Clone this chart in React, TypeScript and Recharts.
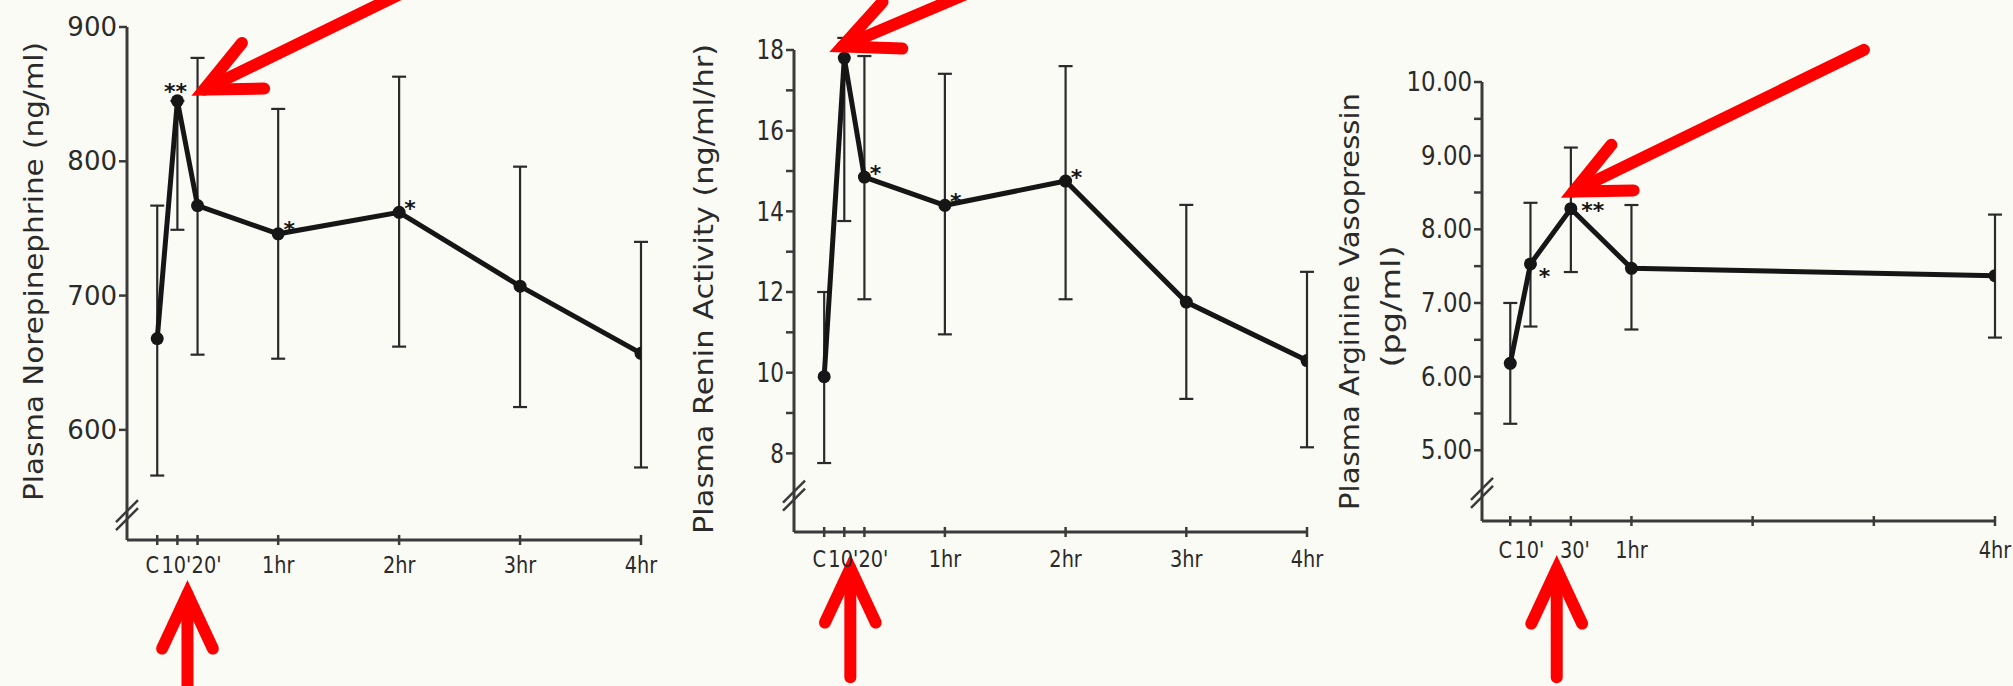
import React from 'react'
import { LineChart, Line, XAxis, YAxis, ErrorBar, ReferenceDot } from 'recharts'

// minutes after the control sample (C = 0)
const neTimes = [0, 10, 20, 60, 120, 180, 240]
const neMean = [668, 845, 767, 746, 762, 707, 657]
const neErr = [[102, 99], [96, 0], [111, 110], [93, 93], [100, 101], [90, 89], [85, 83]]
const neStars = ['', '**', '', '*', '*', '', '']
const neStarSide = ['', 'top', '', 'upRight', 'upRight', '', '']

const reninTimes = [0, 10, 20, 60, 120, 180, 240]
const reninMean = [9.9, 17.8, 14.85, 14.15, 14.75, 11.75, 10.3]
const reninErr = [[2.14, 2.1], [4.04, 0.5], [3.03, 3.0], [3.2, 3.26], [2.93, 2.85], [2.4, 2.41], [2.15, 2.2]]
const reninStars = ['', '', '*', '*', '*', '', '']
const reninStarSide = ['', '', 'upRight', 'upRight', 'upRight', '', '']

const avpTimes = [0, 10, 30, 60, 240]
const avpMean = [6.18, 7.53, 8.28, 7.47, 7.37]
const avpErr = [[0.82, 0.82], [0.85, 0.83], [0.86, 0.83], [0.83, 0.86], [0.84, 0.83]]
const avpStars = ['', '*', '**', '', '']
const avpStarSide = ['', 'right', 'farRight', '', '']

const timeTicks = [0, 10, 20, 60, 120, 180, 240]
const timeLabels = ['C', "10'", "20'", '1hr', '2hr', '3hr', '4hr']
const avpTimeTicks = [0, 10, 30, 60, 120, 180, 240]
const avpTimeLabels = ['C', "10'", "30'", '1hr', '', '', '4hr']

const neTicks = [600, 700, 800, 900]
const reninTicks = [8, 9, 10, 11, 12, 13, 14, 15, 16, 17, 18]
const avpTicks = [5, 5.5, 6, 6.5, 7, 7.5, 8, 8.5, 9, 9.5, 10]

// where the arrows sit on the time axis
const neArrowTime = 15
const reninArrowTime = 13
const avpArrowTime = 23

const INK = '#161616'
const AXIS = '#3a3a3a'
const TEXT = '#2a2a2a'
const RED = '#ff0000'
const FONT = 'DejaVu Sans, sans-serif'

// the first three time labels sit close together, nudge them apart
const labelNudge: Record<string, number> = { C: -5, "10'": -1, "20'": 9, "30'": 4 }

const build = (times: number[], mean: number[], err: number[][], stars: string[], side: string[]) =>
  times.map((t, i) => ({ t, v: mean[i], err: err[i], star: stars[i], side: side[i] }))

const starOffsets: Record<string, [number, number]> = {
  top: [-2, -17],
  upRight: [11, -12],
  right: [14, 5],
  farRight: [22, -6],
}

function Arrow({ x, y, angle, length }: { x: number; y: number; angle: number; length: number }) {
  const w = 12
  const spread = (25 * Math.PI) / 180
  const a = (angle * Math.PI) / 180
  // pull the vertex back so the mitred point lands on (x, y)
  const back = w / 2 / Math.sin(spread)
  const vx = x + back * Math.cos(a)
  const vy = y - back * Math.sin(a)
  const head = 60
  const ex = vx + length * Math.cos(a)
  const ey = vy - length * Math.sin(a)
  const b1x = vx + head * Math.cos(a + spread)
  const b1y = vy - head * Math.sin(a + spread)
  const b2x = vx + head * Math.cos(a - spread)
  const b2y = vy - head * Math.sin(a - spread)
  return (
    <g stroke={RED} strokeWidth={w} fill="none" strokeLinecap="round">
      <path d={`M${ex},${ey} L${vx},${vy}`} />
      <path d={`M${b1x},${b1y} L${vx},${vy} L${b2x},${b2y}`} strokeLinejoin="miter" />
    </g>
  )
}

function AxisBreak({ cx, cy }: { cx: number; cy: number }) {
  return (
    <g stroke={AXIS} strokeWidth={2.5}>
      <line x1={cx - 11} y1={cy + 9} x2={cx + 11} y2={cy - 13} />
      <line x1={cx - 11} y1={cy + 17} x2={cx + 11} y2={cy - 5} />
    </g>
  )
}

type PanelProps = {
  left: number
  width: number
  margin: { top: number; right: number; bottom: number; left: number }
  data: ReturnType<typeof build>
  xDomain: [number, number]
  xTicks: number[]
  xLabels: string[]
  xLabelDy: number
  yDomain: [number, number]
  yTicks: number[]
  yFormat: (v: number) => string
  yFont: number
  yScaleX: number
  yLabel: string[]
  yLabelLength: number[]
  yLabelDx: number[]
  yLabelDy: number[]
  breakValue: number
  peak: { x: number; y: number; dx: number; dy: number; angle: number; length: number }
  base: { x: number; dy: number; length: number }
}

function Panel(p: PanelProps) {
  const renderXTick = (props: any) => {
    const { x, y, payload } = props
    const label = p.xLabels[p.xTicks.indexOf(payload.value)]
    const lx = x + (labelNudge[label] ?? 0)
    return (
      <g>
        <line x1={x} y1={y - 5} x2={x} y2={y + 5} stroke={AXIS} strokeWidth={2.5} />
        {label ? (
          <text
            transform={`translate(${lx},${y + p.xLabelDy}) scale(0.84,1)`}
            textAnchor="middle"
            dominantBaseline="central"
            fontFamily={FONT}
            fontSize={23}
            fill={TEXT}
          >
            {label}
          </text>
        ) : null}
      </g>
    )
  }

  const renderYTick = (props: any) => {
    const { x, y, payload } = props
    const label = p.yFormat(payload.value)
    return (
      <g>
        <line x1={x - 8} y1={y} x2={x} y2={y} stroke={AXIS} strokeWidth={2.5} />
        {label ? (
          <text
            transform={`translate(${x - 10},${y}) scale(${p.yScaleX},1)`}
            textAnchor="end"
            dominantBaseline="central"
            fontFamily={FONT}
            fontSize={p.yFont}
            fill={TEXT}
          >
            {label}
          </text>
        ) : null}
      </g>
    )
  }

  const renderYLabel = (props: any) => {
    const vb = props.viewBox
    const axisX = vb.x + vb.width
    const midY = vb.y + vb.height / 2
    return (
      <g>
        {p.yLabel.map((line, i) => {
          const cx = axisX + p.yLabelDx[i]
          const cy = midY + p.yLabelDy[i]
          return (
            <text
              key={line}
              x={cx}
              y={cy}
              transform={`rotate(-90,${cx},${cy})`}
              textAnchor="middle"
              dominantBaseline="central"
              textLength={p.yLabelLength[i]}
              lengthAdjust="spacingAndGlyphs"
              fontFamily={FONT}
              fontSize={26}
              fill={TEXT}
            >
              {line}
            </text>
          )
        })}
      </g>
    )
  }

  const renderStar = (props: any) => {
    const { x, y, index } = props
    const d = p.data[index]
    if (!d || !d.star) return <g />
    const [dx, dy] = starOffsets[d.side]
    return (
      <text
        x={x + dx}
        y={y + dy + 8}
        textAnchor="middle"
        dominantBaseline="central"
        fontFamily={FONT}
        fontSize={22}
        fontWeight="bold"
        fill={INK}
      >
        {d.star}
      </text>
    )
  }

  return (
    <div style={{ position: 'absolute', left: p.left, top: 0 }}>
      <LineChart width={p.width} height={686} data={p.data} margin={p.margin}>
        <XAxis
          type="number"
          dataKey="t"
          domain={p.xDomain}
          ticks={p.xTicks}
          interval={0}
          allowDataOverflow
          height={40}
          tickSize={0}
          tickMargin={0}
          tickLine={false}
          axisLine={{ stroke: AXIS, strokeWidth: 3 }}
          tick={renderXTick}
        />
        <YAxis
          type="number"
          domain={p.yDomain}
          ticks={p.yTicks}
          interval={0}
          allowDataOverflow
          width={60}
          tickSize={0}
          tickMargin={0}
          tickLine={false}
          axisLine={{ stroke: AXIS, strokeWidth: 3 }}
          tick={renderYTick}
          label={{ content: renderYLabel }}
        />
        <Line
          type="linear"
          dataKey="v"
          stroke={INK}
          strokeWidth={5}
          dot={{ r: 6.5, fill: INK, stroke: INK, strokeWidth: 0 }}
          activeDot={false}
          label={renderStar}
          isAnimationActive={false}
        >
          <ErrorBar dataKey="err" direction="y" width={7} strokeWidth={2.2} stroke="#2a2a2a" isAnimationActive={false} />
        </Line>
        <ReferenceDot
          x={p.xDomain[0]}
          y={p.breakValue}
          r={0}
          ifOverflow="visible"
          shape={(s: any) => <AxisBreak cx={s.cx} cy={s.cy} />}
        />
        <ReferenceDot
          x={p.peak.x}
          y={p.peak.y}
          r={0}
          ifOverflow="visible"
          shape={(s: any) => (
            <Arrow x={s.cx + p.peak.dx} y={s.cy + p.peak.dy} angle={p.peak.angle} length={p.peak.length} />
          )}
        />
        <ReferenceDot
          x={p.base.x}
          y={p.yDomain[0]}
          r={0}
          ifOverflow="visible"
          shape={(s: any) => <Arrow x={s.cx} y={s.cy + p.base.dy} angle={-90} length={p.base.length} />}
        />
      </LineChart>
    </div>
  )
}

export default function App() {
  const ne = build(neTimes, neMean, neErr, neStars, neStarSide)
  const renin = build(reninTimes, reninMean, reninErr, reninStars, reninStarSide)
  const avp = build(avpTimes, avpMean, avpErr, avpStars, avpStarSide)

  return (
    <div style={{ position: 'relative', width: 2013, height: 686, overflow: 'hidden', background: '#fbfbf5' }}>
      <style>{'body { margin: 0; }'}</style>
      <Panel
        left={0}
        width={680}
        margin={{ top: 27, right: 39, bottom: 106, left: 67 }}
        data={ne}
        xDomain={[-15, 240]}
        xTicks={timeTicks}
        xLabels={timeLabels}
        xLabelDy={25}
        yDomain={[518, 900]}
        yTicks={neTicks}
        yFormat={(v) => String(v)}
        yFont={26}
        yScaleX={1}
        yLabel={['Plasma Norepinephrine  (ng/ml)']}
        yLabelLength={[459]}
        yLabelDx={[-93]}
        yLabelDy={[-12]}
        breakValue={538}
        peak={{ x: neTimes[1], y: neMean[1], dx: 14, dy: -5, angle: 26, length: 330 }}
        base={{ x: neArrowTime, dy: 40, length: 130 }}
      />
      <Panel
        left={680}
        width={650}
        margin={{ top: 50, right: 23, bottom: 114, left: 54 }}
        data={renin}
        xDomain={[-15, 240]}
        xTicks={timeTicks}
        xLabels={timeLabels}
        xLabelDy={27}
        yDomain={[6.05, 18]}
        yTicks={reninTicks}
        yFormat={(v) => (v % 2 === 0 ? String(v) : '')}
        yFont={27}
        yScaleX={0.8}
        yLabel={['Plasma Renin Activity  (ng/ml/hr)']}
        yLabelLength={[490]}
        yLabelDx={[-90]}
        yLabelDy={[-2]}
        breakValue={7}
        peak={{ x: reninTimes[1], y: reninMean[1], dx: -15, dy: -6, angle: 23, length: 160 }}
        base={{ x: reninArrowTime, dy: 22, length: 109 }}
      />
      <Panel
        left={1330}
        width={683}
        margin={{ top: 82, right: 18, bottom: 125, left: 92 }}
        data={avp}
        xDomain={[-14, 240]}
        xTicks={avpTimeTicks}
        xLabels={avpTimeLabels}
        xLabelDy={29}
        yDomain={[4.04, 10]}
        yTicks={avpTicks}
        yFormat={(v) => (Number.isInteger(v) ? v.toFixed(2) : '')}
        yFont={26}
        yScaleX={0.88}
        yLabel={['Plasma Arginine Vasopressin', '(pg/ml)']}
        yLabelLength={[417, 122]}
        yLabelDx={[-132, -91]}
        yLabelDy={[0, 5]}
        breakValue={4.45}
        peak={{ x: avpTimes[2], y: avpMean[2], dx: -10, dy: -11, angle: 26, length: 323 }}
        base={{ x: avpArrowTime, dy: 34, length: 108 }}
      />
    </div>
  )
}
